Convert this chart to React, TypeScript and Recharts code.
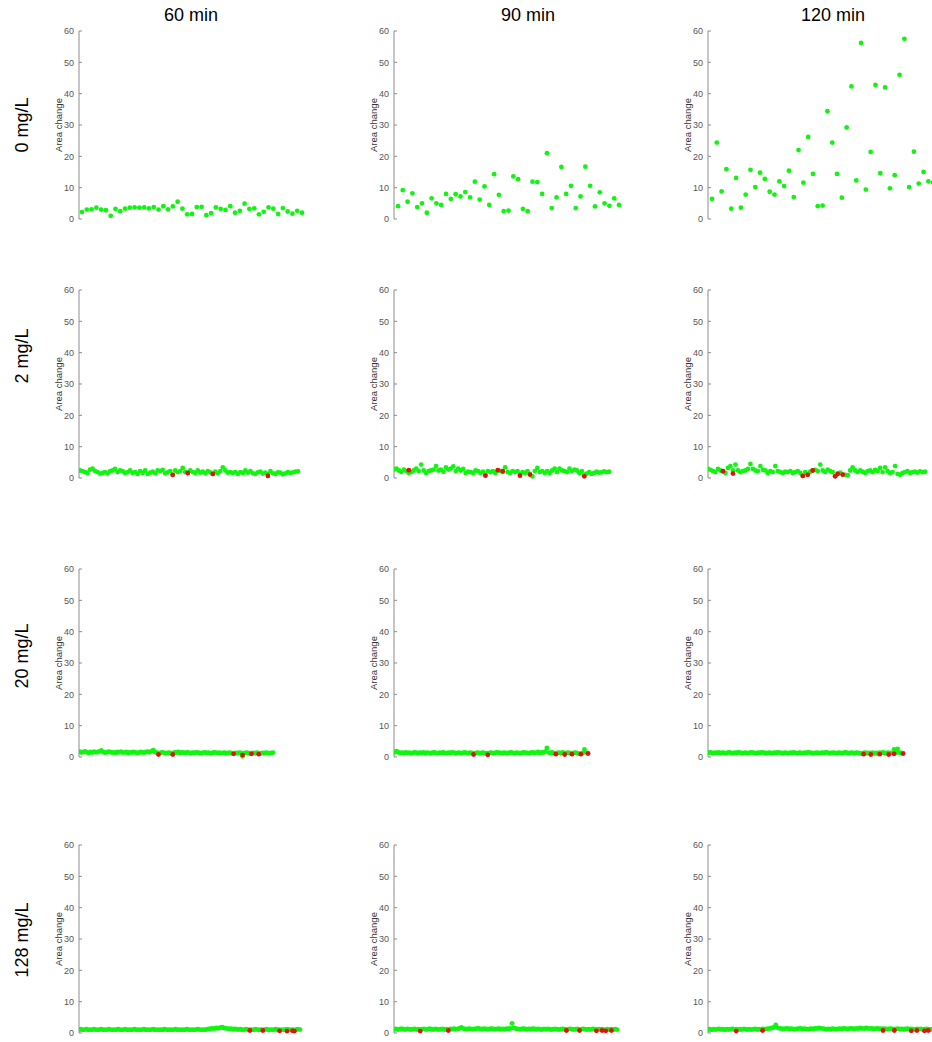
import React from 'react';
import { ScatterChart, Scatter, XAxis, YAxis, Label } from 'recharts';

const colTitles = ['60 min', '90 min', '120 min'];
const rowTitles = ['0 mg/L', '2 mg/L', '20 mg/L', '128 mg/L'];
const yTicks = [0, 10, 20, 30, 40, 50, 60];

// Row 1: 0 mg/L
const g_0_60 = [2.2,3.0,3.1,3.6,3.0,2.8,1.0,3.2,2.5,3.3,3.6,3.7,3.6,3.7,3.4,3.8,3.0,4.1,3.1,4.0,5.5,3.3,1.5,1.6,3.8,3.9,1.2,1.9,3.7,3.2,2.9,4.1,2.0,2.6,4.9,3.2,3.4,1.5,2.3,3.7,3.3,1.6,3.5,2.4,1.7,2.6,2.0];
const g_0_90 = [4.1,9.2,5.5,8.2,3.8,5.0,2.0,6.6,5.0,4.5,8.0,6.4,7.9,7.2,8.6,6.9,11.9,6.2,10.4,4.5,14.3,7.7,2.5,2.7,13.6,12.7,3.2,2.5,11.9,11.8,8.0,21.0,3.5,6.9,16.6,8.0,10.6,3.5,7.2,16.7,10.6,4.0,8.5,5.0,4.2,6.6,4.5];
const g_0_120 = [6.4,24.4,8.8,15.9,3.3,13.1,3.6,7.8,15.7,10.2,14.8,12.8,8.7,7.8,12.0,10.5,15.4,7.0,22.0,11.6,26.2,14.4,4.1,4.3,34.4,24.4,14.4,6.8,29.2,42.3,12.3,56.2,9.4,21.4,42.8,14.6,42.0,9.8,14.0,46.0,57.5,10.2,21.5,11.3,15.0,12.0,11.7,10.0];

// Row 2: 2 mg/L
const g_2_60 = [2.4,2.2,1.9,1.6,2.7,3.0,2.2,1.9,1.4,1.6,1.9,1.5,2.2,2.4,2.9,1.9,2.4,2.2,1.6,1.9,2.4,1.6,1.9,1.3,2.2,1.6,2.4,1.3,1.7,2.0,1.5,2.4,2.2,2.6,1.5,1.8,2.2,1.0,2.4,1.9,2.2,3.2,1.9,1.6,2.4,1.9,1.6,2.4,1.7,2.0,1.5,2.2,1.8,1.3,2.0,1.5,2.2,3.4,2.4,1.7,1.9,1.6,1.9,1.3,1.9,1.6,2.4,1.7,2.2,1.5,1.3,1.8,2.0,1.4,1.7,1.2,2.2,1.5,1.3,1.8,1.7,1.2,1.5,1.9,1.6,1.8,2.0,2.1];
const g_2_90 = [2.8,3.0,2.4,1.9,2.7,2.2,1.6,1.9,2.4,3.0,2.2,4.3,2.4,1.6,2.2,2.4,2.7,3.8,2.4,2.7,2.0,3.4,2.7,3.0,3.7,2.2,3.0,2.4,2.9,1.6,2.0,1.9,1.6,2.4,2.2,1.6,2.0,1.0,2.2,1.9,2.2,1.6,2.4,2.3,1.9,3.4,1.9,1.6,2.2,1.9,2.2,1.2,1.9,1.6,2.2,1.3,0.5,2.2,3.2,1.9,2.2,1.6,2.2,1.6,2.4,3.0,1.9,3.0,2.4,2.2,1.9,3.0,2.2,2.7,2.4,1.6,2.2,1.1,1.4,1.9,1.3,1.6,2.0,1.7,1.8,2.1,1.9,2.0];
const g_2_120 = [2.9,2.6,2.2,1.9,2.9,2.4,2.2,1.6,3.2,3.8,2.4,4.3,2.4,1.9,2.2,2.4,2.9,4.5,2.9,2.4,2.2,3.8,2.6,2.4,1.6,2.2,1.9,3.8,2.2,1.9,1.6,2.0,1.9,2.2,1.6,1.9,2.2,1.6,0.7,1.9,1.1,2.0,2.4,2.6,2.2,4.3,2.4,1.9,2.7,2.2,1.9,0.6,1.4,1.7,1.1,1.0,0.9,2.4,3.4,2.4,1.9,2.4,2.0,1.6,2.2,2.4,1.9,2.6,2.2,3.2,1.9,3.4,2.2,1.6,1.9,3.8,1.3,1.0,1.6,1.9,2.2,1.6,1.9,2.0,1.7,2.1,1.9,2.0];

// Row 3: 20 mg/L
const g_20_60 = [1.5,1.7,1.4,1.6,1.8,1.5,1.3,1.6,1.4,1.7,1.5,1.6,1.8,2.1,1.6,1.4,1.5,1.7,1.6,1.4,1.5,1.3,1.6,1.5,1.7,1.4,1.5,1.6,1.3,1.5,1.4,1.6,1.5,1.3,1.4,1.6,1.5,1.4,1.6,1.7,1.5,1.8,2.2,1.6,1.4,1.2,1.3,1.5,1.4,1.2,1.3,1.4,1.1,1.2,1.5,1.4,1.6,1.3,1.5,1.4,1.3,1.5,1.4,1.2,1.4,1.3,1.5,1.4,1.3,1.2,1.4,1.5,1.3,1.4,1.2,1.3,1.5,1.4,1.3,1.4,1.2,1.3,1.4,1.2,1.3,1.4,1.2,1.1,1.3,1.2,1.4,1.3,0.2,1.2,1.4,1.3,1.1,1.2,1.3,1.2,1.4,1.2,1.1,1.3,1.2,1.4,1.3,1.2,1.3,1.4];
const g_20_90 = [1.4,1.6,1.9,1.5,1.3,1.4,1.2,1.5,1.3,1.4,1.2,1.3,1.5,1.4,1.2,1.4,1.3,1.5,1.2,1.4,1.3,1.2,1.4,1.5,1.3,1.2,1.4,1.3,1.5,1.3,1.2,1.4,1.3,1.5,1.4,1.2,1.3,1.4,1.2,1.3,1.5,1.3,1.2,1.4,1.3,1.1,1.2,1.4,1.3,1.2,1.4,1.3,1.1,1.2,1.3,1.4,1.2,1.3,1.5,1.4,1.3,1.2,1.4,1.3,1.2,1.4,1.5,1.3,1.2,1.4,1.3,1.2,1.3,1.5,1.4,1.3,1.2,1.4,1.5,1.3,1.4,1.6,1.3,1.5,1.4,1.7,2.9,1.4,1.3,1.5,1.2,1.1,1.3,1.4,1.2,1.5,1.1,1.3,1.4,1.2,1.0,1.3,1.4,1.2,1.1,1.0,1.3,2.4,1.4,1.2];
const g_20_120 = [1.3,1.5,1.4,1.2,1.4,1.3,1.5,1.2,1.4,1.3,1.2,1.4,1.5,1.3,1.2,1.4,1.3,1.5,1.4,1.2,1.3,1.4,1.2,1.3,1.5,1.4,1.3,1.2,1.4,1.3,1.5,1.4,1.3,1.2,1.4,1.3,1.2,1.4,1.3,1.5,1.4,1.3,1.2,1.4,1.3,1.2,1.4,1.3,1.5,1.3,1.2,1.4,1.3,1.2,1.4,1.3,1.5,1.4,1.3,1.2,1.3,1.4,1.2,1.3,1.4,1.3,1.5,1.4,1.2,1.3,1.4,1.3,1.2,1.4,1.3,1.2,1.4,1.5,1.3,1.2,1.4,1.3,1.2,1.4,1.3,1.2,1.1,1.3,1.4,1.2,1.3,1.2,1.4,1.1,1.3,1.2,1.4,1.3,1.5,1.2,1.3,1.4,1.2,1.3,2.4,1.3,2.6,1.4,1.3,1.2];

// Row 4: 128 mg/L
const g_128_60 = [1.1,1.2,1.0,1.1,1.2,1.0,1.1,1.0,1.2,1.1,1.0,1.1,1.2,1.0,1.1,1.0,1.2,1.1,1.0,1.1,1.0,1.2,1.1,1.0,1.1,1.2,1.0,1.1,1.0,1.1,1.2,1.0,1.1,1.0,1.1,1.2,1.0,1.1,1.0,1.1,1.2,1.0,1.1,1.0,1.1,1.0,1.2,1.1,1.0,1.1,1.0,1.1,1.2,1.0,1.1,1.0,1.1,1.0,1.2,1.1,1.0,1.1,1.0,1.1,1.2,1.1,1.0,1.1,1.0,1.2,1.3,1.4,1.5,1.4,1.6,1.5,1.7,1.9,1.6,1.5,1.4,1.3,1.4,1.2,1.3,1.2,1.1,1.2,1.0,1.1,1.2,1.1,1.0,1.1,1.0,1.2,1.1,1.0,1.1,1.0,1.1,1.2,1.0,1.1,1.0,1.1,1.2,1.0,1.1,1.0,1.1,1.0,1.2,1.1,1.0,1.1,1.0,1.1,1.2,1.1];
const g_128_90 = [1.2,1.3,1.1,1.2,1.4,1.2,1.1,1.3,1.2,1.1,1.2,1.3,1.1,1.2,1.0,1.2,1.3,1.1,1.2,1.4,1.2,1.1,1.3,1.2,1.1,1.2,1.3,1.1,1.2,1.0,1.3,1.2,1.4,1.2,1.3,1.5,1.8,1.4,1.3,1.2,1.4,1.3,1.2,1.3,1.4,1.5,1.3,1.2,1.4,1.3,1.2,1.3,1.4,1.3,1.2,1.3,1.4,1.2,1.3,1.2,1.4,1.3,1.5,3.1,1.6,1.4,1.3,1.2,1.3,1.4,1.3,1.2,1.3,1.2,1.4,1.3,1.2,1.3,1.2,1.1,1.3,1.2,1.3,1.2,1.1,1.2,1.3,1.2,1.1,1.2,1.3,1.2,1.0,1.2,1.3,1.2,1.1,1.2,1.3,1.1,1.2,1.3,1.2,1.1,1.2,1.1,1.3,1.2,1.0,1.2,1.1,1.2,1.0,1.1,1.2,1.1,1.2,1.1,1.2,1.1];
const g_128_120 = [1.1,1.2,1.0,1.2,1.1,1.2,1.3,1.1,1.2,1.0,1.2,1.1,1.2,1.3,1.1,1.2,1.1,1.2,1.1,1.3,1.2,1.1,1.2,1.1,1.2,1.3,1.1,1.2,1.1,1.3,1.2,1.3,1.4,1.5,1.6,1.8,2.6,1.7,1.5,1.4,1.3,1.4,1.5,1.3,1.4,1.3,1.2,1.3,1.4,1.5,1.3,1.4,1.3,1.2,1.3,1.4,1.3,1.5,1.4,1.6,1.5,1.4,1.3,1.2,1.3,1.2,1.4,1.3,1.2,1.3,1.4,1.3,1.5,1.4,1.3,1.4,1.5,1.4,1.3,1.5,1.4,1.6,1.5,1.4,1.6,1.5,1.4,1.5,1.3,1.4,1.5,1.3,1.4,1.3,1.4,1.2,1.3,1.4,1.3,1.2,1.3,1.4,1.2,1.3,1.2,1.3,1.4,1.2,1.3,1.2,1.1,1.3,1.2,1.3,1.1,1.2,1.3,1.2,1.1,1.2];

// Red (flagged) points: [index, value]
const r_0_60: number[][] = [];
const r_0_90: number[][] = [];
const r_0_120: number[][] = [];
const r_2_60 = [[37,1.0],[43,1.6],[53,1.3],[75,0.65]];
const r_2_90 = [[6,2.5],[37,0.75],[42,2.5],[44,2.15],[51,0.75],[55,1.1],[77,0.55]];
const r_2_120 = [[6,2.15],[10,1.4],[38,0.65],[40,1.0],[42,2.4],[51,0.55],[52,1.3],[54,1.1]];
const r_20_60 = [[45,0.8],[53,0.8],[87,1.0],[92,0.6],[97,1.0],[101,0.9]];
const r_20_90 = [[45,0.8],[53,0.7],[91,0.9],[96,0.8],[100,0.9],[105,0.9],[109,1.1]];
const r_20_120 = [[87,0.9],[91,0.8],[96,0.9],[101,0.8],[104,1.0],[109,1.1]];
const r_128_60 = [[92,0.8],[99,0.8],[108,0.7],[112,0.6],[115,0.7],[116,0.6]];
const r_128_90 = [[14,0.6],[29,0.8],[92,0.8],[99,0.8],[108,0.7],[111,0.8],[113,0.7],[116,0.8]];
const r_128_120 = [[15,0.6],[29,0.8],[93,0.8],[99,0.8],[108,0.7],[111,0.8],[115,0.7],[117,0.8]];

const panelGreen = [
  [g_0_60, g_0_90, g_0_120],
  [g_2_60, g_2_90, g_2_120],
  [g_20_60, g_20_90, g_20_120],
  [g_128_60, g_128_90, g_128_120],
];
const panelRed = [
  [r_0_60, r_0_90, r_0_120],
  [r_2_60, r_2_90, r_2_120],
  [r_20_60, r_20_90, r_20_120],
  [r_128_60, r_128_90, r_128_120],
];
// first/last point pixel offsets from axis line, per panel
const panelExtent = [
  [[3, 223], [4, 225], [4, 230]],
  [[1, 219], [0, 215], [0, 217]],
  [[-1, 194], [-1, 194], [0, 195]],
  [[0, 221], [0, 223], [0, 224]],
];

const axisXs = [79, 394, 708];
const topYs = [31, 290, 569, 845];
const PLOT_W = 245;
const PLOT_H = 188;
const AXIS_W = 60;
const FONT = '"Liberation Sans", Arial, Helvetica, sans-serif';
const GREEN = '#10f510';
const RED = '#e41010';

const YTick = (props: any) => {
  const { x, y, payload } = props;
  return (
    <g>
      <line x1={x + 5} x2={x + 8} y1={y} y2={y} stroke="#8c8c8c" strokeWidth={1} />
      <text x={x} y={y} dy={3.2} textAnchor="end" fontSize={9} fill="#555" fontFamily={FONT}>
        {payload.value}
      </text>
    </g>
  );
};

const Dot = (color: string) => (p: any) => <circle cx={p.cx} cy={p.cy} r={2.4} fill={color} />;

function Panel({ row, col }: { row: number; col: number }) {
  const green = panelGreen[row][col];
  const red = panelRed[row][col];
  const [s, e] = panelExtent[row][col];
  const n = green.length;
  const sp = (e - s) / (n - 1);
  const domain = [-s / sp, (PLOT_W - s) / sp];
  const gData = green.map((v, i) => ({ x: i, y: v }));
  const rData = red.map(([i, v]) => ({ x: i, y: v }));
  return (
    <div style={{ position: 'absolute', left: axisXs[col] - AXIS_W, top: topYs[row] - 5 }}>
      <ScatterChart width={AXIS_W + PLOT_W} height={PLOT_H + 10} margin={{ top: 5, right: 0, bottom: 5, left: 0 }}>
        <XAxis type="number" dataKey="x" domain={domain} hide allowDataOverflow />
        <YAxis
          type="number"
          dataKey="y"
          domain={[0, 60]}
          ticks={yTicks}
          width={AXIS_W}
          tickSize={0}
          tickMargin={5}
          tickLine={false}
          axisLine={{ stroke: '#8c8c8c' }}
          tick={<YTick />}
          interval={0}
        >
          <Label
            content={(lp: any) => {
              const vb = lp.viewBox;
              const cx = vb.x + vb.width - 20;
              const cy = vb.y + vb.height / 2;
              return (
                <text x={cx} y={cy} transform={`rotate(-90 ${cx} ${cy})`} textAnchor="middle" dy={3} fontSize={9.5} fill="#333" fontFamily={FONT}>
                  Area change
                </text>
              );
            }}
          />
        </YAxis>
        <Scatter data={gData} fill={GREEN} shape={Dot(GREEN)} isAnimationActive={false} />
        <Scatter data={rData} fill={RED} shape={Dot(RED)} isAnimationActive={false} />
      </ScatterChart>
    </div>
  );
}

const colTitleX = [191, 528, 833];
const rowTitleY = [125, 356, 656, 940];

export default function App() {
  return (
    <div style={{ position: 'absolute', left: 0, top: 0, width: 932, height: 1042, overflow: 'hidden', background: '#fff' }}>
      <svg width={932} height={1042} style={{ position: 'absolute', left: 0, top: 0 }}>
        {colTitles.map((t, i) => (
          <text key={t} x={colTitleX[i]} y={21} textAnchor="middle" fontSize={18} fill="#000" fontFamily={FONT}>
            {t}
          </text>
        ))}
        {rowTitles.map((t, i) => (
          <text
            key={t}
            x={22}
            y={rowTitleY[i]}
            transform={`rotate(-90 22 ${rowTitleY[i]})`}
            textAnchor="middle"
            dy={6}
            fontSize={18}
            fill="#000"
            fontFamily={FONT}
          >
            {t}
          </text>
        ))}
      </svg>
      {[0, 1, 2, 3].map((r) => [0, 1, 2].map((c) => <Panel key={`${r}-${c}`} row={r} col={c} />))}
    </div>
  );
}
